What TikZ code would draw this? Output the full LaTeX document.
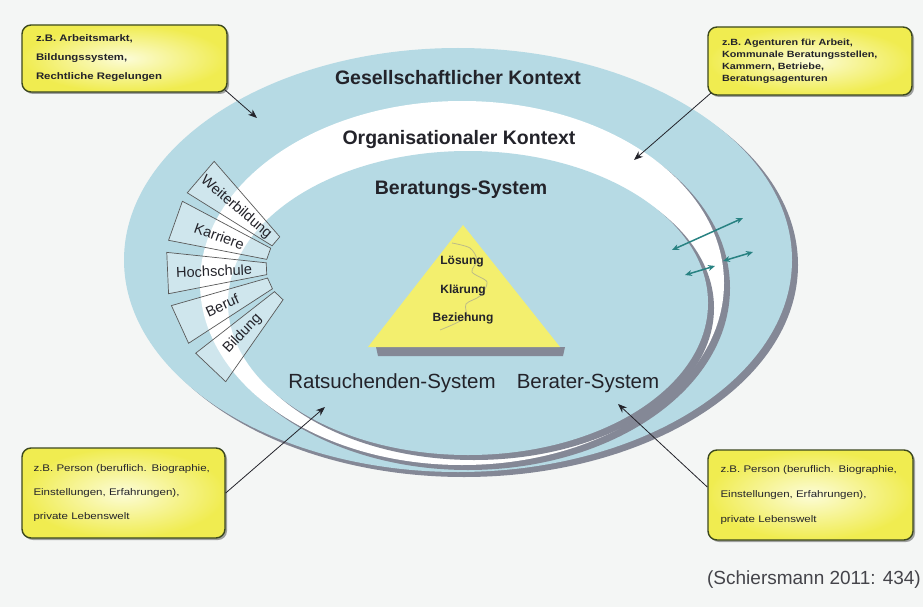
\documentclass[tikz,border=0pt]{standalone}
\usepackage{fontspec}
\setmainfont{Liberation Sans}
\newfontfamily\boxfont[FakeStretch=1.2]{Liberation Sans}
\usetikzlibrary{arrows.meta}
\usetikzlibrary{shadows}

\definecolor{paper}{RGB}{244,246,245}
\definecolor{ringblue}{RGB}{182,218,228}
\definecolor{rimgrey}{RGB}{132,136,150}
\definecolor{boxyellow}{RGB}{240,236,80}
\definecolor{boxlight}{RGB}{252,252,215}
\definecolor{boxrim}{RGB}{60,72,30}
\definecolor{pyryellow}{RGB}{243,239,110}
\definecolor{linkteal}{RGB}{40,130,130}
\definecolor{ink}{RGB}{35,35,42}

\tikzset{
  notebox/.style={draw=boxrim, line width=1.4pt, rounded corners=9pt,
    inner color=boxlight, outer color=boxyellow, align=left, text width=#1,
    text=ink, drop shadow={shadow xshift=2pt, shadow yshift=-2pt, fill=black, opacity=0.35}},
  pointer/.style={draw=ink, line width=0.8pt, -{Stealth[length=9pt,width=7pt]}},
  link/.style={draw=linkteal, line width=1.5pt, {Stealth[length=7pt,width=6pt]}-{Stealth[length=7pt,width=6pt]}},
  fanbox/.style={draw=black!65, line width=0.7pt, fill=white, fill opacity=0.35},
  fantext/.style={font=\fontsize{14.5}{16}\selectfont, text=ink, inner sep=0.5pt},
  context/.style={font=\bfseries\fontsize{19.5}{22}\selectfont, text=ink},
  subsys/.style={font=\fontsize{20.5}{24}\selectfont, text=ink},
  level/.style={font=\bfseries\fontsize{12}{14}\selectfont, text=ink},
}

\begin{document}
\begin{tikzpicture}[x=1pt, y=-1pt]
\fill[paper] (0,0) rectangle (923,607);
\useasboundingbox (0,0) rectangle (923,607);

% the three nested systems, each with its grey rim
\fill[rimgrey] (464,265) ellipse[x radius=334pt, y radius=212pt];
\fill[ringblue] (458,260) ellipse[x radius=334pt, y radius=212pt];
\fill[rimgrey] (468,288) ellipse[x radius=262pt, y radius=182pt];
\fill[white] (462,283) ellipse[x radius=262pt, y radius=182pt];
\fill[rimgrey] (474,308) ellipse[x radius=240pt, y radius=152pt];
\fill[ringblue] (468,303) ellipse[x radius=240pt, y radius=152pt];

% fan of life stages
\coordinate (fanC) at (306,267);
\foreach \a/\t [evaluate=\a as \m using \a+8.5] in {131/Weiterbildung,152/Karriere,174/Hochschule,196/Beruf,218/Bildung}{
 \draw[fanbox, shift={(fanC)}] (-\a:40) -- (-\a:140) -- (-\a-17:140) -- (-\a-17:40) -- cycle;
 \node[fantext, rotate=\m-180] (fan\t) at ([shift={(-\m:92)}]fanC) {\t};
}

% pyramid
\fill[rimgrey] (376,347) -- (565,347) -- (563,356) -- (378,356) -- cycle;
\fill[pyryellow] (463,225) -- (560,347) -- (368,347) -- cycle;
\draw[black!40, line width=0.8pt, opacity=0.6] plot[smooth] coordinates
 {(452,243) (470,248) (477,260) (472,272) (487,282) (480,296) (466,304) (465,318) (440,330)};
\node[level] (loesung) at (462,262) {Lösung};
\node[level] (klaerung) at (463,290) {Klärung};
\node[level] (beziehung) at (463,318) {Beziehung};

\node[context] (ges) at (458,78) {Gesellschaftlicher Kontext};
\node[context] (org) at (459,140) {Organisationaler Kontext};
\node[context] (bsys) at (461,190) {Beratungs-System};
\node[subsys] (rat) at (392,383) {Ratsuchenden-System};
\node[subsys] (berater) at (588,383) {Berater-System};

% exchange across the borders
\coordinate (lA) at (672,250); \coordinate (lB) at (743,218);
\coordinate (lC) at (685,275); \coordinate (lD) at (715,266);
\coordinate (lE) at (723,261); \coordinate (lF) at (753,252);
\draw[link] (lA) -- (lB);
\draw[link] (lC) -- (lD);
\draw[link] (lE) -- (lF);

% notes
\node[notebox=177pt, inner xsep=14pt, minimum height=67pt, font=\boxfont\bfseries\fontsize{9.5}{19}\selectfont]
 (noteGes) at (124.5,58.5) {z.B. Arbeitsmarkt,\\Bildungssystem,\\Rechtliche Regelungen};
\node[notebox=176pt, inner xsep=14pt, minimum height=68pt, font=\boxfont\bfseries\fontsize{9}{12}\selectfont]
 (noteOrg) at (810,61) {z.B. Agenturen für Arbeit,\\Kommunale Beratungsstellen,\\Kammern, Betriebe,\\Beratungsagenturen};
\node[notebox=180pt, inner xsep=11.5pt, minimum height=90pt, font=\boxfont\fontsize{9.6}{24}\selectfont]
 (noteRat) at (123.5,493) {z.B. Person (beruflich. Biographie,\\Einstellungen, Erfahrungen),\\private Lebenswelt};
\node[notebox=180pt, inner xsep=12.5pt, minimum height=90pt, font=\boxfont\fontsize{9.6}{25}\selectfont]
 (noteBer) at (810.5,495) {z.B. Person (beruflich. Biographie,\\Einstellungen, Erfahrungen),\\private Lebenswelt};

\coordinate (tipGes) at (257,118);
\coordinate (tipOrg) at (634,160);
\coordinate (tipRat) at (325,407);
\coordinate (tipBer) at (618,404);
\draw[pointer] ([xshift=-3pt,yshift=3pt]noteGes.south east) -- (tipGes);
\draw[pointer] ([xshift=4pt,yshift=3pt]noteOrg.south west) -- (tipOrg);
\draw[pointer] (noteRat.east) -- (tipRat);
\draw[pointer] ([yshift=8pt]noteBer.west) -- (tipBer);

\node[font=\fontsize{19}{22}\selectfont, text=ink!85] (quelle) at (814,580) {(Schiersmann 2011: 434)};
\end{tikzpicture}
\end{document}
